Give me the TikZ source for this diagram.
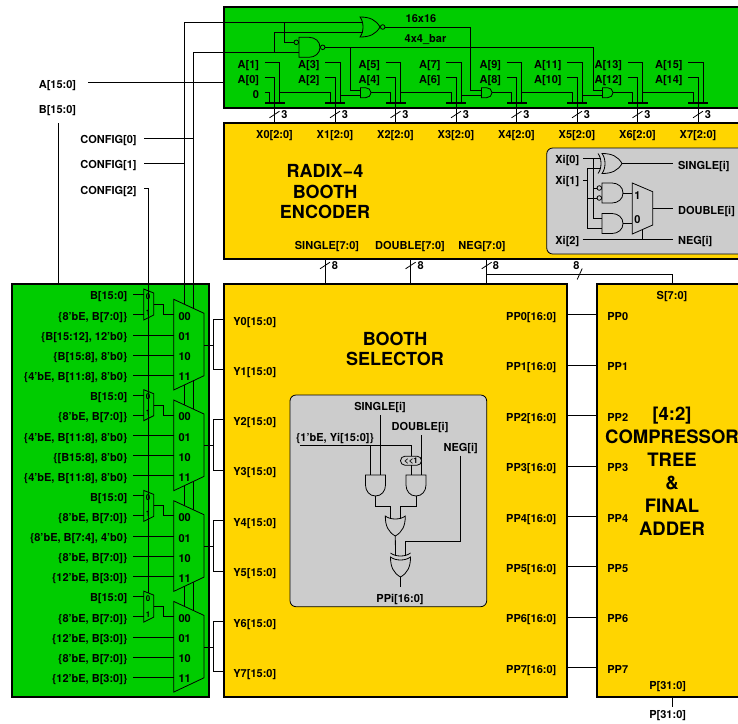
\documentclass[tikz,border=0pt]{standalone}
\usepackage{fontspec}
\setmainfont{TeX Gyre Heros}
\usetikzlibrary{calc}
\definecolor{fieldgreen}{HTML}{00CC00}
\definecolor{boxyellow}{HTML}{FFD500}
\definecolor{panelgray}{HTML}{CCCCCC}
\tikzset{
  andgate/.pic={
    \draw (0,-10) -- (10,-10) .. controls (16,-10) and (21,-6) .. (21,0) .. controls (21,6) and (16,10) .. (10,10) -- (0,10) -- cycle;
    \coordinate (-ina) at (0,-5); \coordinate (-inb) at (0,5); \coordinate (-out) at (21,0);
  },
  orgate/.pic={
    \draw (0,-10) .. controls (4,-5) and (4,5) .. (0,10) .. controls (10,10) and (16,7) .. (20,0) .. controls (16,-7) and (10,-10) .. (0,-10) -- cycle;
    \coordinate (-ina) at (2.6,-5); \coordinate (-inb) at (2.6,5); \coordinate (-out) at (20,0);
  },
  xorgate/.pic={
    \draw (0,-10) .. controls (4,-5) and (4,5) .. (0,10) .. controls (10,10) and (16,7) .. (20,0) .. controls (16,-7) and (10,-10) .. (0,-10) -- cycle;
    \draw (-4,-10) .. controls (0,-5) and (0,5) .. (-4,10);
    \coordinate (-ina) at (-1.4,-5); \coordinate (-inb) at (-1.4,5); \coordinate (-out) at (20,0);
  },
  smallmux/.pic={
    \draw (0,0) -- (10,4) -- (10,26) -- (0,31) -- cycle;
    \node[tiny] (-lz) at (4.5,7) {0};
    \node[tiny] (-lo) at (4.5,23) {1};
    \coordinate (-in0) at (0,5.3); \coordinate (-in1) at (0,25.3); \coordinate (-out) at (10,15.3);
  },
  bigmux/.pic={
    \draw[fill=fieldgreen] (0,0) -- (30.3,14) -- (30.3,76.4) -- (0,90.7) -- cycle;
    \node[lab,anchor=west] (-la) at (4.5,16.7) {00};
    \node[lab,anchor=west] (-lb) at (4.5,37.4) {01};
    \node[lab,anchor=west] (-lc) at (4.5,57.4) {10};
    \node[lab,anchor=west] (-ld) at (4.5,77.4) {11};
    \coordinate (-in00) at (0,15); \coordinate (-in01) at (0,35.7);
    \coordinate (-in10) at (0,55.7); \coordinate (-in11) at (0,75.7);
    \coordinate (-out) at (30.3,45.7);
  },
  buscut/.pic={\draw (-5,3.3) -- (5,-3.3);}
}
\begin{document}
\begin{tikzpicture}[
  x=1pt,y=-1pt,line width=0.8pt,
  block/.style={draw,line width=1.6pt,anchor=north west,inner sep=0pt,outer sep=0pt},
  cell/.style={draw,fill=panelgray,rounded corners=6pt,anchor=north west,inner sep=0pt,outer sep=0pt},
  lab/.style={font=\fontsize{11}{13}\selectfont\bfseries,text height=8pt,text depth=0pt,inner sep=0pt},
  tiny/.style={font=\fontsize{8}{9}\selectfont\bfseries,text height=6pt,text depth=0pt,inner sep=0pt},
  big/.style={font=\fontsize{18}{20.5}\selectfont\bfseries,align=center,inner sep=0pt},
  bar/.style={fill=black,minimum width=20pt,minimum height=1.8pt,inner sep=0pt},
  bubble/.style={draw,circle,minimum size=4.6pt,inner sep=0pt}
]
\clip (0,0) rectangle (738,723);
\node[block,fill=fieldgreen,minimum width=600pt,minimum height=101pt] (top) at (224,7) {};
\node[block,fill=boxyellow,minimum width=600pt,minimum height=136pt] (enc) at (224,123) {};
\node[block,fill=fieldgreen,minimum width=197pt,minimum height=413pt] (pre) at (12,284) {};
\node[block,fill=boxyellow,minimum width=343pt,minimum height=413pt] (sel) at (224,284) {};
\node[block,fill=boxyellow,minimum width=300pt,minimum height=413pt] (comp) at (597,284) {};
\node[cell,minimum width=300pt,minimum height=106pt] (enccell) at (546.7,148) {};
\node[cell,minimum width=196.7pt,minimum height=211.7pt] (selcell) at (290,395) {};

\node[lab] (alab) at (57.5,84) {A[15:0]};
\node[lab] (blab) at (57.5,109.5) {B[15:0]};
\node[lab,anchor=east] (cfgzero) at (137,139.5) {CONFIG[0]};
\node[lab,anchor=east] (cfgone) at (137,164) {CONFIG[1]};
\node[lab,anchor=east] (cfgtwo) at (137,190) {CONFIG[2]};
\coordinate (aport) at (88,82.7);
\coordinate (bport) at (58,123);
\coordinate (ctlzero) at (193.5,52.3);
\coordinate (ctlone) at (184,22);
\coordinate (ctlzeroend) at (193.5,612);
\coordinate (ctloneend) at (184,608);
\coordinate (seltwo) at (148.5,188);
\coordinate (seltwoend) at (148.5,593);
\draw (aport) -- (aport -| top.west);
\draw (bport) -- (bport |- pre.north);

\pic (nor) at (360,27) {orgate};
\pic (nand) at (299,47.3) {andgate};
\node[bubble,anchor=west] (norinv) at (nor-out) {};
\node[bubble,anchor=west] (nandinv) at (nand-out) {};
\node[bubble,anchor=east] (nandbub) at (nand-ina) {};
\node[lab] (sizelab) at (421,18.5) {16x16};
\node[lab] (barlab) at (425.5,38) {4x4\_bar};
\draw (144,163.5) -- (ctlone |- 144,163.5);
\draw (144,138) -- (ctlzero |- 144,138);
\draw (nor-ina) -- (ctlone) -- (ctloneend);
\draw (nand-inb) -- (ctlzero) -- (ctlzeroend);
\draw (nor-inb) -| (274.3,52.3);
\draw (284.3,22) |- (nandbub.west);
\draw (144,188) -- (seltwo) -- (seltwoend);

\foreach \i [evaluate=\i as \hi using int(2*\i-1),evaluate=\i as \lo using int(2*\i-2),
  evaluate=\i as \k using int(\i-1),evaluate=\i as \xx using 274.5+60.5*(\i-1)] in {1,...,8} {
  \node[bar] (bar\i) at (\xx,103) {};
  \node[lab,anchor=east] (ahi\i) at (\xx-15,64.3) {A[\hi]};
  \node[lab,anchor=east] (alo\i) at (\xx-15,79) {A[\lo]};
  \node[lab] (xlab\i) at (\xx,134) {X\k[2:0]};
  \node[lab] (three\i) at (\xx+10,114.5) {3};
  \coordinate (pa\i) at (\xx-10,62.3);
  \coordinate (pb\i) at (\xx-10,77.3);
  \coordinate (hi\i) at ($(bar\i.center)+(5,0)$);
  \coordinate (mid\i) at (bar\i.center);
  \coordinate (low\i) at ($(bar\i.center)+(-5,0)$);
  \draw (pa\i) -| (hi\i);
  \draw (pb\i) -| (mid\i);
  \draw (mid\i) -- (mid\i |- enc.north);
  \pic at (\xx,114.5) {buscut};
}
\node[lab,anchor=east] (zerolab) at (259.5,94) {0};
\draw (264.5,92.5) -| (low1);
\foreach \a/\b in {1/2,3/4,5/6,7/8} {
  \draw (hi\a |- 0,92.5) -| (low\b);
}
\foreach \a/\b in {2/3,4/5,6/7} {
  \pic[scale=0.5] (and\b) at ($(bar\b.center)+(-35,-10.3)$) {andgate};
  \draw (hi\a |- and\b-inb) -- (and\b-inb);
  \draw (and\b-out) -| (low\b);
}
\draw (nandinv.east) -| (593.3,70) |- (and7-ina);
\draw (350,47.3) |- (and3-ina);
\draw (norinv.east) -| (470.7,70) |- (and5-ina);

\node[big] (enctext) at (325,192) {RADIX−4\\BOOTH\\ENCODER};
\node[lab] (singbus) at (327,245) {SINGLE[7:0]};
\node[lab] (doubbus) at (410,245) {DOUBLE[7:0]};
\node[lab] (negbus) at (482,245) {NEG[7:0]};
\coordinate (singcut) at (325,265.5);
\coordinate (doubcut) at (410.6,265.5);
\coordinate (negcut) at (486.7,265.5);
\draw (singcut |- enc.south) -- (singcut |- sel.north);
\draw (doubcut |- enc.south) -- (doubcut |- sel.north);
\draw (negcut |- enc.south) -- (negcut |- sel.north);
\draw (486.7,274) -| (672.7,284);
\pic at (singcut) {buscut};
\pic at (doubcut) {buscut};
\pic at (negcut) {buscut};
\pic[rotate=32] at (579.7,274) {buscut};
\node[lab] (eighta) at (335,265) {8};
\node[lab] (eightb) at (420.7,265) {8};
\node[lab] (eightc) at (496,265) {8};
\node[lab] (eightd) at (576.5,265) {8};

\node[lab,anchor=west] (xia) at (555,159.5) {Xi[0]};
\node[lab,anchor=west] (xib) at (555,180.5) {Xi[1]};
\node[lab,anchor=west] (xic) at (555,240.5) {Xi[2]};
\node[lab,anchor=west] (singi) at (677.7,165) {SINGLE[i]};
\node[lab,anchor=west] (doubi) at (677.7,210) {DOUBLE[i]};
\node[lab,anchor=west] (negi) at (677.7,240.5) {NEG[i]};
\pic (xora) at (602,163.5) {xorgate};
\pic (andu) at (602,193) {andgate};
\pic (andl) at (602,223.5) {andgate};
\node[bubble,anchor=east] (bubu) at (andu-ina) {};
\node[bubble,anchor=east] (bubl) at (andu-inb) {};
\draw (632.3,183) -- (652.7,191.7) -- (652.7,225) -- (632.3,234) -- cycle;
\node[lab] (muxone) at (637.5,195.5) {1};
\node[lab] (muxzero) at (637.5,219.5) {0};
\coordinate (tapa) at (593,158.5);
\coordinate (tapb) at (587,168.5);
\draw (583,158.5) -- (xora-ina);
\draw (583,180) -- (587,180);
\draw (xora-inb) -- (tapb) |- (andl-inb);
\draw (tapa) |- (andl-ina);
\draw (tapa |- bubu) -- (bubu.west);
\draw (tapb |- bubl) -- (bubl.west);
\draw (xora-out) -- ([xshift=-5pt]singi.west |- xora-out);
\draw (andu-out) -- (632.3,193);
\draw (andl-out) -- (632.3,223.5);
\draw (652.7,208) -- ([xshift=-5pt]doubi.west |- 652.7,208);
\draw (582.7,239) -- (672.7,239);
\draw (642.7,229.5) -- (642.7,239);

\foreach \m/\dy/\rc/\rd/\re in {
  1/0/{\{B[15:12], 12'b0\}}/{\{B[15:8], 8'b0\}}/{\{4'bE, B[11:8], 8'b0\}},
  2/100.7/{\{4'bE, B[11:8], 8'b0\}}/{\{[B15:8], 8'b0\}}/{\{4'bE, B[11:8], 8'b0\}},
  3/201.4/{\{8'bE, B[7:4], 4'b0\}}/{\{8'bE, B[7:0]\}}/{\{12'bE, B[3:0]\}},
  4/302.1/{\{12'bE, B[3:0]\}}/{\{8'bE, B[7:0]\}}/{\{12'bE, B[3:0]\}}} {
  \pic (smux\m) at (143.7,289+\dy) {smallmux};
  \pic (bmux\m) at (173.7,299.3+\dy) {bigmux};
  \node[lab,anchor=east] (rowa\m) at (127.7,295.8+\dy) {B[15:0]};
  \node[lab,anchor=east] (rowb\m) at (127.7,316+\dy) {\{8'bE, B[7:0]\}};
  \node[lab,anchor=east] (rowc\m) at (127.7,336.5+\dy) {\rc};
  \node[lab,anchor=east] (rowd\m) at (127.7,356.5+\dy) {\rd};
  \node[lab,anchor=east] (rowe\m) at (127.7,376.5+\dy) {\re};
  \draw ([xshift=5.3pt]rowa\m.east |- smux\m-in0) -- (smux\m-in0);
  \draw ([xshift=5.3pt]rowb\m.east |- smux\m-in1) -- (smux\m-in1);
  \draw ([xshift=5.3pt]rowc\m.east |- bmux\m-in01) -- (bmux\m-in01);
  \draw ([xshift=5.3pt]rowd\m.east |- bmux\m-in10) -- (bmux\m-in10);
  \draw ([xshift=5.3pt]rowe\m.east |- bmux\m-in11) -- (bmux\m-in11);
  \draw (smux\m-out) -- ++(9.7,0) |- (bmux\m-in00);
  \coordinate (ysplit\m) at ($(bmux\m-out)+(9.7,0)$);
  \coordinate (yup\m) at (224,319+\dy);
  \coordinate (ydn\m) at (224,369.5+\dy);
  \draw (bmux\m-out) -- (ysplit\m);
  \draw (yup\m) -| (ysplit\m) |- (ydn\m);
}
\foreach \i/\yy in {0/321,1/371,2/421,3/471,4/522,5/572,6/623,7/673} {
  \node[lab,anchor=west] (ylab\i) at (233,\yy) {Y\i[15:0]};
}
\foreach \i [evaluate=\i as \yy using 314.7+50.4*\i] in {0,...,7} {
  \node[lab,anchor=east] (ppout\i) at (556.7,\yy+1.7) {PP\i[16:0]};
  \node[lab,anchor=west] (ppin\i) at (607,\yy+1.7) {PP\i};
  \coordinate (ppy\i) at (580,\yy);
  \draw (sel.east |- ppy\i) -- (comp.west |- ppy\i);
}
\node[big] (seltext) at (395,349) {BOOTH\\SELECTOR};
\node[big,font=\fontsize{18.5}{23}\selectfont\bfseries] (comptext) at (672,471.5) {[4:2]\\COMPRESSOR\\TREE\\\&\\FINAL\\ADDER};
\node[lab] (slab) at (672,295) {S[7:0]};
\node[lab] (pin) at (667.7,685) {P[31:0]};
\node[lab] (pout) at (667.7,714) {P[31:0]};
\draw (672.7,697) -- (672.7,707);

\node[lab] (singl) at (380,406) {SINGLE[i]};
\node[lab] (doubl) at (420,426.5) {DOUBLE[i]};
\node[lab] (yil) at (335,437.5) {\{1'bE, Yi[15:0]\}};
\node[lab] (negl) at (460.7,447) {NEG[i]};
\node[lab] (ppil) at (400,598) {PPi[16:0]};
\pic[rotate=-90] (anda) at (375.5,475) {andgate};
\pic[rotate=-90] (andb) at (416,475) {andgate};
\pic[rotate=-90] (orsel) at (395.3,516) {orgate};
\pic[rotate=-90] (xorsel) at (400.5,557) {xorgate};
\coordinate (yistart) at (300,445);
\draw (yistart) -| (andb-inb);
\draw (anda-inb |- yistart) -- (anda-inb);
\draw (380.5,415) -- (anda-ina);
\draw (andb-ina |- 0,435) -- (andb-ina);
\node[draw,fill=panelgray,rounded corners=4.4pt,minimum width=21pt,minimum height=9pt,inner sep=0pt,font=\fontsize{8}{9}\selectfont\bfseries] (shift) at (411,460.7) {<{}<1};
\draw (anda-out) |- (orsel-inb |- 0,506) -- (orsel-inb);
\draw (andb-out) |- (orsel-ina |- 0,506) -- (orsel-ina);
\draw (orsel-out) -- (xorsel-inb);
\draw (460.7,455.7) |- (xorsel-ina |- 0,541) -- (xorsel-ina);
\draw (xorsel-out) -- ++(0,10);
\end{tikzpicture}
\end{document}
